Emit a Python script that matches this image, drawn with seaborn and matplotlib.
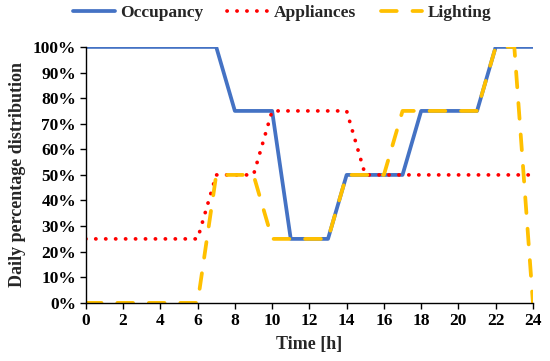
import pandas as pd
import numpy as np
import matplotlib
matplotlib.use("Agg")
import matplotlib.pyplot as plt
import seaborn as sns
from matplotlib.ticker import PercentFormatter

hours = list(range(25))
occupancy = [100, 100, 100, 100, 100, 100, 100, 100, 75, 75, 75, 25, 25, 25,
             50, 50, 50, 50, 75, 75, 75, 75, 100, 100, 100]
appliances = [25, 25, 25, 25, 25, 25, 25, 50, 50, 50, 75, 75, 75, 75,
              75, 50, 50, 50, 50, 50, 50, 50, 50, 50, 50]
lighting = [0, 0, 0, 0, 0, 0, 0, 50, 50, 50, 25, 25, 25, 25,
            50, 50, 50, 75, 75, 75, 75, 75, 100, 100, 0]
series = ["Occupancy", "Appliances", "Lighting"]
colors = {"Occupancy": "#4472C4", "Appliances": "#FF0000", "Lighting": "#FFC000"}

df = pd.DataFrame({"Time": hours * 3,
                   "Value": occupancy + appliances + lighting,
                   "Series": np.repeat(series, len(hours))})

sns.set_style("white")
plt.rcParams["font.family"] = ["Liberation Serif", "DejaVu Serif"]
plt.rcParams["font.weight"] = "bold"

fig = plt.figure(figsize=(5.5, 3.61), dpi=100)
ax = fig.add_axes([0.156, 0.161, 0.813, 0.709])

dashes = {"Occupancy": "", "Appliances": (0.05, 2.6), "Lighting": (4.2, 4.2)}
sns.lineplot(data=df, x="Time", y="Value", hue="Series", style="Series",
             palette=colors, dashes=dashes, linewidth=2.7, ax=ax, legend=False)
lines = ax.get_lines()[:3]
lines[1].set_dash_capstyle("round")
lines[2].set_dash_capstyle("round")

ax.set_xlim(0, 24)
ax.set_ylim(0, 100)
ax.set_xticks(range(0, 25, 2))
ax.set_yticks(range(0, 101, 10))
ax.yaxis.set_major_formatter(PercentFormatter(decimals=0))
ax.tick_params(axis="both", direction="out", length=4, width=1, labelsize=12.5,
               left=True, bottom=True, colors="black", pad=3)
for lab in ax.get_xticklabels() + ax.get_yticklabels():
    lab.set_fontweight("bold")
ax.set_xlabel("Time [h]", fontsize=13, fontweight="bold", labelpad=5)
ax.set_ylabel("Daily percentage distribution", fontsize=13, fontweight="bold",
              labelpad=5)
sns.despine(ax=ax)
for s in ["left", "bottom"]:
    ax.spines[s].set_color("black")
    ax.spines[s].set_linewidth(1)

leg = fig.legend(lines, series, loc="center", bbox_to_anchor=(0.513, 0.963),
                 ncol=3, frameon=False, handlelength=2.4, columnspacing=1.4,
                 handletextpad=0.3, prop={"weight": "bold", "size": 12.5})

fig.savefig("out.png", dpi=100)
